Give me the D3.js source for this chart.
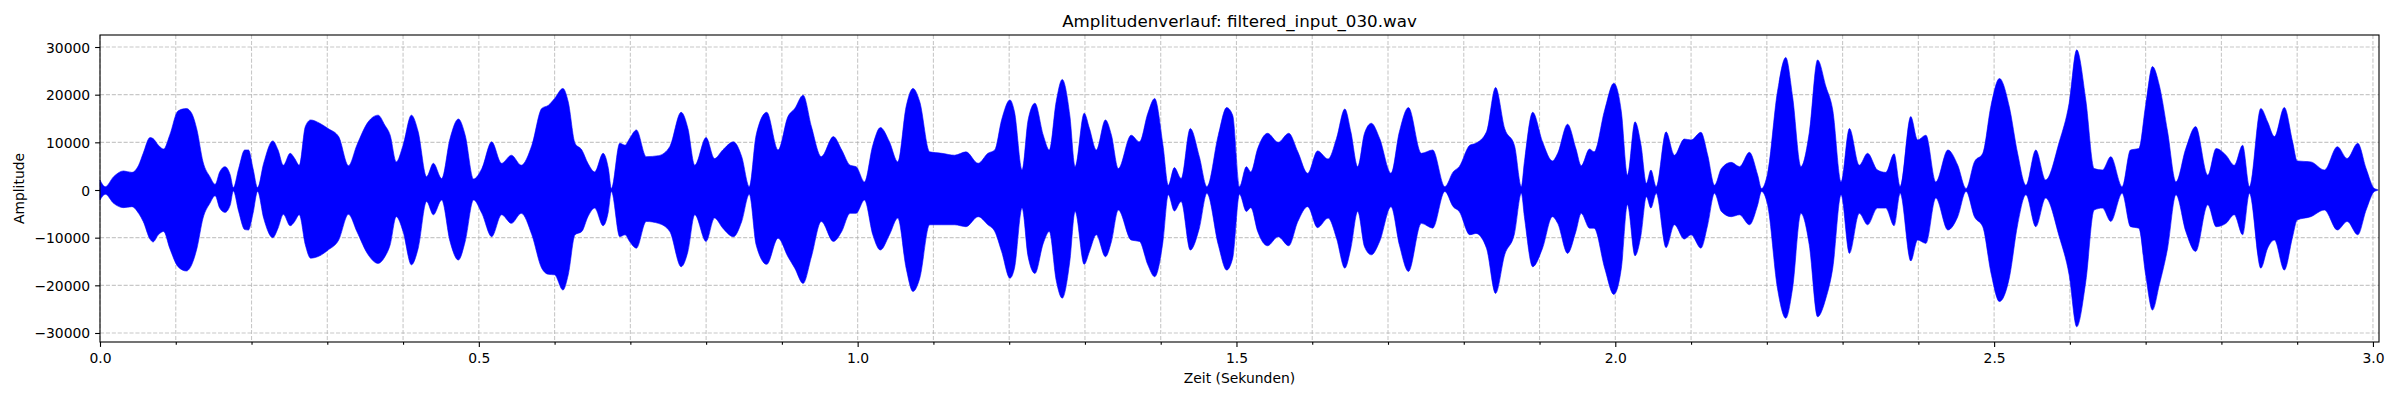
<!DOCTYPE html>
<html>
<head>
<meta charset="utf-8">
<script src="https://cdn.jsdelivr.net/npm/d3@7"></script>
<style>
  body { margin: 0; background: #ffffff; }
  svg { display: block; font-family: "DejaVu Sans", sans-serif; }
</style>
</head>
<body>
<svg></svg>
<script>
// Envelope of the waveform (max / min per time point)
var zeit = [
  0.000, 0.007, 0.018, 0.031, 0.042, 0.051, 0.057, 0.066, 0.070, 0.077,
  0.084, 0.092, 0.103, 0.114, 0.121, 0.128, 0.136, 0.145, 0.152, 0.158,
  0.165, 0.172, 0.176, 0.183, 0.191, 0.196, 0.202, 0.208, 0.216, 0.228,
  0.235, 0.242, 0.251, 0.257, 0.263, 0.271, 0.278, 0.290, 0.301, 0.315,
  0.328, 0.339, 0.354, 0.367,
  0.376, 0.383, 0.391, 0.400, 0.411, 0.420, 0.431, 0.440, 0.451, 0.462,
  0.473, 0.482, 0.493, 0.504, 0.517, 0.530, 0.543, 0.556, 0.570, 0.583,
  0.592, 0.600, 0.611, 0.618, 0.627, 0.636, 0.644, 0.653, 0.664, 0.671,
  0.675, 0.686, 0.693, 0.699, 0.708, 0.721, 0.737,
  0.752, 0.767, 0.776, 0.785, 0.800, 0.811, 0.822, 0.836, 0.847, 0.857,
  0.866, 0.880, 0.895, 0.908, 0.917, 0.928, 0.939, 0.952, 0.968, 0.979,
  0.990, 0.998, 1.009, 1.020, 1.030, 1.042, 1.053, 1.064, 1.073, 1.082,
  1.095, 1.111,
  1.128, 1.143, 1.159, 1.172, 1.181, 1.190, 1.201, 1.207, 1.217, 1.225,
  1.234, 1.245, 1.253, 1.262, 1.270, 1.280, 1.287, 1.299, 1.306, 1.315,
  1.327, 1.335, 1.344, 1.361, 1.372, 1.383, 1.392, 1.403, 1.410, 1.418,
  1.427, 1.439, 1.451, 1.461, 1.476, 1.487, 1.495,
  1.504, 1.513, 1.519, 1.528, 1.541, 1.555, 1.569, 1.581, 1.594, 1.607,
  1.621, 1.632, 1.643, 1.651, 1.660, 1.669, 1.678, 1.689, 1.704, 1.715,
  1.727, 1.744, 1.759, 1.775, 1.786, 1.794, 1.808, 1.816, 1.830, 1.842,
  1.854, 1.867, 1.876,
  1.880, 1.891, 1.904, 1.917, 1.924, 1.937, 1.948, 1.955, 1.966, 1.972,
  1.986, 1.998, 2.008, 2.016, 2.026, 2.034, 2.041, 2.047, 2.054, 2.067,
  2.078, 2.091, 2.100, 2.113, 2.122, 2.131, 2.140, 2.153, 2.164, 2.177,
  2.188, 2.193, 2.201, 2.214, 2.225, 2.234, 2.245,
  2.256, 2.267, 2.278, 2.287, 2.298, 2.309, 2.322, 2.333, 2.346, 2.357,
  2.368, 2.376, 2.390, 2.399, 2.410, 2.423, 2.439, 2.452, 2.463, 2.474,
  2.485, 2.496, 2.507, 2.520, 2.531, 2.542, 2.555, 2.568, 2.586, 2.599,
  2.609, 2.621,
  2.632, 2.643, 2.654, 2.669, 2.680, 2.691, 2.700, 2.709, 2.718, 2.729,
  2.740, 2.753, 2.766, 2.782, 2.793, 2.806, 2.817, 2.828, 2.837, 2.852,
  2.861, 2.870, 2.883, 2.894, 2.900, 2.918, 2.936, 2.953, 2.966, 2.980,
  2.991, 3.002, 3.006
];

var oben = [
  2100, 700, 2800, 4000, 3700, 5200, 7700, 11000, 10800, 9400,
  8600, 11500, 16600, 17100, 16100, 12600, 5900, 2800, 1200, 3800,
  4900, 3100, 500, 4500, 8400, 8400, 4500, 500, 5600, 10300,
  8400, 5200, 7700, 6600, 5200, 13300, 14700, 14000, 12900, 11200,
  5100, 9400, 14300, 15700,
  13600, 11500, 5900, 9400, 15700, 12200, 2800, 5600, 2400, 10800,
  14900, 11500, 2300, 4500, 10100, 5600, 7300, 5200, 9400, 17100,
  17800, 19200, 21300, 18500, 9800, 8400, 5600, 3800, 7700, 4500,
  300, 9800, 9400, 10800, 12600, 7000, 7200,
  9100, 16300, 12900, 5200, 11000, 6600, 8400, 10100, 7000, 700,
  11500, 16300, 8400, 15400, 17100, 19900, 13300, 7000, 11200, 8400,
  5200, 4900, 1700, 9400, 13100, 10100, 5900, 17500, 21300, 18500,
  8000, 7700,
  7300, 8000, 5600, 7700, 8400, 14700, 18900, 16400, 4200, 14700,
  18200, 11500, 8400, 18500, 23200, 15700, 4900, 16100, 12900, 8400,
  14700, 11500, 4500, 11500, 10100, 16100, 19200, 9400, 1000, 4700,
  2400, 12900, 7000, 700, 11500, 17300, 15700,
  700, 4900, 3800, 8700, 11900, 10000, 11900, 8000, 3500, 8200,
  6500, 10800, 17000, 12200, 4900, 11900, 14000, 10800, 3500, 12200,
  17300, 7700, 8400, 700, 3800, 4900, 9400, 9800, 12200, 21500,
  12900, 9300, 700,
  5900, 16300, 10100, 6100, 7700, 13800, 8700, 5100, 8600, 8000,
  16800, 22400, 16400, 3100, 14300, 9400, 1400, 4200, 700, 12200,
  7300, 10700, 10500, 12100, 7300, 1000, 4500, 5800, 4900, 7900,
  3100, 300, 3500, 20600, 27800, 19600, 4900,
  12000, 27300, 21700, 16800, 1700, 12900, 5200, 7700, 4200, 3700,
  7600, 700, 15400, 10500, 11500, 1700, 8400, 5200, 300, 5900,
  7700, 17800, 23400, 17500, 7700, 1000, 8400, 2100, 10100, 18200,
  29400, 18900,
  4500, 4200, 7000, 700, 8400, 8700, 17800, 25900, 22000, 12200,
  1700, 8700, 13300, 3100, 8700, 7300, 5200, 9400, 700, 17100,
  14300, 11200, 17300, 10100, 6100, 5900, 4200, 9100, 6600, 9800,
  4500, 300, 100
];

var unten = [
  -2100, -900, -2800, -3700, -3500, -4900, -6600, -10300, -10900, -9400,
  -8700, -12200, -16100, -17000, -15700, -12200, -5900, -2800, -1200, -3800,
  -4700, -3100, -200, -4500, -8300, -8400, -4900, -300, -5900, -10000,
  -8000, -5100, -7500, -6600, -5200, -11500, -14300, -13800, -12600, -10500,
  -5100, -8700, -13600, -15400,
  -14000, -11500, -5600, -8700, -15700, -12200, -2400, -5200, -2100, -10800,
  -14700, -10800, -2100, -4900, -9800, -5200, -7000, -4900, -9400, -16400,
  -17700, -17800, -21000, -17800, -9400, -8700, -5600, -3800, -7500, -4500,
  -300, -9800, -9400, -10800, -12200, -6600, -7000,
  -8700, -16100, -12900, -5200, -10800, -5900, -8000, -9800, -6600, -900,
  -11500, -15600, -10100, -14000, -16400, -19600, -14000, -6600, -10800, -8700,
  -4900, -4900, -2100, -9400, -12600, -9400, -5900, -16400, -21300, -18500,
  -7300, -7300,
  -7300, -7700, -5600, -7300, -8700, -12900, -18500, -16400, -3800, -14000,
  -17500, -11200, -8700, -18900, -22700, -15000, -4500, -15600, -12900, -9400,
  -14000, -10800, -4200, -10500, -10800, -15700, -18200, -10800, -1000, -4400,
  -2400, -12600, -8000, -700, -11500, -16800, -14300,
  -900, -4500, -3700, -8700, -11700, -9800, -11700, -6600, -3500, -7900,
  -5900, -10100, -16400, -12200, -4500, -11900, -13600, -10800, -3500, -11500,
  -17100, -7000, -8000, -300, -3500, -4500, -9400, -9100, -12200, -21700,
  -13600, -9100, -700,
  -5600, -16100, -12200, -5600, -7000, -13300, -8700, -4900, -8000, -8000,
  -16400, -21900, -16400, -3100, -13800, -9400, -1400, -3800, -700, -12100,
  -7300, -10300, -9400, -12200, -7300, -700, -4500, -5600, -5200, -7300,
  -3100, -300, -3100, -20600, -26900, -20600, -4900,
  -11500, -26600, -22700, -16400, -1000, -13300, -4900, -7300, -3800, -3800,
  -7500, -700, -14900, -10500, -11200, -1700, -8400, -5600, -300, -5600,
  -7700, -17500, -23400, -18500, -7300, -1000, -7700, -1700, -9800, -17800,
  -28700, -19200,
  -4200, -3800, -6600, -700, -7700, -8000, -17800, -25200, -19900, -12200,
  -1000, -8700, -12900, -3100, -7700, -7000, -5200, -9400, -700, -16400,
  -12200, -10500, -16800, -9800, -6300, -5600, -4200, -8400, -6600, -9400,
  -4200, -300, -100
];

// ticks
var xMajorTicks = [0.0, 0.5, 1.0, 1.5, 2.0, 2.5, 3.0];
var xMinorTicks = [0.1, 0.2, 0.3, 0.4, 0.6, 0.7, 0.8, 0.9, 1.1, 1.2, 1.3, 1.4,
  1.6, 1.7, 1.8, 1.9, 2.1, 2.2, 2.3, 2.4, 2.6, 2.7, 2.8, 2.9];
var yTicks = [-30000, -20000, -10000, 0, 10000, 20000, 30000];

var titel = "Amplitudenverlauf: filtered_input_030.wav";
var xTitel = "Zeit (Sekunden)";
var yTitel = "Amplitude";

window.onload = function() {
  var width = 2400;
  var height = 400;

  var svg = d3.select("svg")
    .attr("width", width)
    .attr("height", height);

  // axes box like the matplotlib figure
  var margin = { top: 35, right: 21, bottom: 58, left: 100 };
  var innerW = width - margin.left - margin.right;
  var innerH = height - margin.top - margin.bottom;

  var plot = svg.append("g")
    .attr("transform", "translate(" + margin.left + "," + margin.top + ")");

  var x = d3.scaleLinear().domain([0, 3.008]).range([0, innerW]);
  var y = d3.scaleLinear().domain([-31890, 32520]).range([innerH, 0]);

  var points = zeit.map(function(t, i) {
    return { t: t, hi: oben[i], lo: unten[i] };
  });

  // grid lines (x on major + minor ticks, y on major ticks)
  var grid = plot.append("g")
    .attr("stroke", "#b0b0b0")
    .attr("stroke-opacity", 0.7)
    .attr("stroke-width", 1.1)
    .attr("stroke-dasharray", "4.1,1.8");

  grid.selectAll("line.vx")
    .data(xMajorTicks.concat(xMinorTicks))
    .enter()
    .append("line")
    .attr("class", "vx")
    .attr("x1", function(d) { return x(d); })
    .attr("x2", function(d) { return x(d); })
    .attr("y1", 0)
    .attr("y2", innerH);

  grid.selectAll("line.hy")
    .data(yTicks)
    .enter()
    .append("line")
    .attr("class", "hy")
    .attr("x1", 0)
    .attr("x2", innerW)
    .attr("y1", function(d) { return y(d); })
    .attr("y2", function(d) { return y(d); });

  // the waveform envelope
  var area = d3.area()
    .x(function(d) { return x(d.t); })
    .y0(function(d) { return y(d.lo); })
    .y1(function(d) { return y(d.hi); })
    .curve(d3.curveMonotoneX);

  plot.append("path")
    .datum(points)
    .attr("d", area)
    .attr("fill", "#0000ff")
    .attr("stroke", "#0000ff")
    .attr("stroke-width", 0.6);

  // axes
  var xAxis = plot.append("g")
    .attr("transform", "translate(0," + innerH + ")")
    .call(d3.axisBottom(x)
      .tickValues(xMajorTicks)
      .tickFormat(d3.format(".1f"))
      .tickSizeInner(4.9)
      .tickSizeOuter(0)
      .tickPadding(4.9));

  var xMinor = plot.append("g")
    .attr("transform", "translate(0," + innerH + ")")
    .call(d3.axisBottom(x)
      .tickValues(xMinorTicks)
      .tickFormat("")
      .tickSizeInner(2.8)
      .tickSizeOuter(0));

  var yAxis = plot.append("g")
    .call(d3.axisLeft(y)
      .tickValues(yTicks)
      .tickFormat(d3.format("d"))
      .tickSizeInner(4.9)
      .tickSizeOuter(0)
      .tickPadding(4.9));

  [xAxis, xMinor, yAxis].forEach(function(a) {
    a.select(".domain").remove();
    a.selectAll(".tick line").attr("stroke", "#000").attr("stroke-width", 1.1);
    a.selectAll(".tick text")
      .attr("fill", "#000")
      .style("font-family", "'DejaVu Sans', sans-serif")
      .style("font-size", "13.9px");
  });

  xAxis.selectAll(".tick text").attr("dy", null).attr("y", 20.6);
  yAxis.selectAll(".tick text").attr("dy", null).attr("y", 5);

  // frame
  plot.append("rect")
    .attr("x", 0)
    .attr("y", 0)
    .attr("width", innerW)
    .attr("height", innerH)
    .attr("fill", "none")
    .attr("stroke", "#000")
    .attr("stroke-width", 1.1);

  // labels
  svg.append("text")
    .attr("x", margin.left + innerW / 2)
    .attr("y", 27.3)
    .attr("text-anchor", "middle")
    .style("font-size", "16.7px")
    .text(titel);

  svg.append("text")
    .attr("x", margin.left + innerW / 2)
    .attr("y", 382.7)
    .attr("text-anchor", "middle")
    .style("font-size", "13.9px")
    .text(xTitel);

  svg.append("text")
    .attr("transform", "translate(23.5," + (margin.top + innerH / 2) + ") rotate(-90)")
    .attr("text-anchor", "middle")
    .style("font-size", "13.9px")
    .text(yTitel);
};
</script>
</body>
</html>
